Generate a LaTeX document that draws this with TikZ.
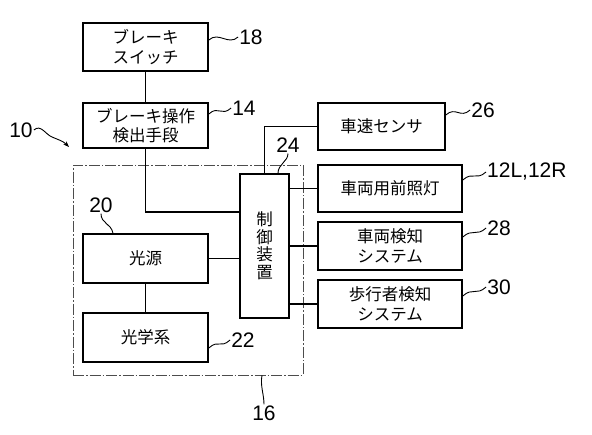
\documentclass[tikz,border=0pt]{standalone}
\usepackage{fontspec}
\setmainfont{Liberation Sans}
\newfontfamily\jpfont{Noto Sans CJK JP}
\usetikzlibrary{arrows.meta}

\tikzset{
    blk/.style={draw, line width=1.6pt, inner sep=0pt, align=center, font=\jpfont\fontsize{16.5}{19.5}\selectfont},
    wire/.style={line width=1.3pt},
    lead/.style={line width=0.9pt},
    num/.style={inner sep=1pt, font=\fontsize{21}{21}\selectfont},
}

\begin{document}
\begin{tikzpicture}[x=1pt,y=-1pt]
    \useasboundingbox (0,0) rectangle (592,434);
    \node[draw, line width=0.8pt, draw=black!70, dash pattern=on 11pt off 2pt on 1.5pt off 2pt, minimum width=230pt, minimum height=210pt] (sys) at (188,270) {};
    \node[blk, minimum width=125pt, minimum height=48pt] (sw) at (145.5,47) {ブレーキ\\スイッチ};
    \node[blk, minimum width=125pt, minimum height=45pt] (brk) at (145.5,125.5) {ブレーキ操作\\検出手段};
    \node[blk, minimum width=49pt, minimum height=144pt, font=\jpfont\fontsize{16.5}{17.5}\selectfont] (ctrl) at (264.5,246) {制\\御\\装\\置};
    \node[blk, minimum width=125pt, minimum height=49pt] (light) at (145.5,258.5) {光源};
    \node[blk, minimum width=125pt, minimum height=49pt] (optics) at (145.5,337.5) {光学系};
    \node[blk, minimum width=127pt, minimum height=47pt] (speed) at (381.5,126.5) {車速センサ};
    \node[blk, minimum width=144pt, minimum height=47pt] (head) at (390,188.5) {車両用前照灯};
    \node[blk, minimum width=144pt, minimum height=48pt] (veh) at (390,246) {車両検知\\システム};
    \node[blk, minimum width=144pt, minimum height=48pt] (ped) at (390,304) {歩行者検知\\システム};

    \draw[wire] (sw.south) -- (brk.north);
    \draw[wire] (brk.south) |- (ctrl.west |- 0,212);
    \draw[wire] (light.east) -- (light.east -| ctrl.west);
    \draw[wire] (light.south) -- (optics.north);
    \draw[wire] (ctrl.north) |- (speed.west);
    \draw[wire] (head.west -| ctrl.east) -- (head.west);
    \draw[wire] (veh.west -| ctrl.east) -- (veh.west);
    \draw[wire] (ped.west -| ctrl.east) -- (ped.west);

    \node[num] (n10) at (21,130) {10};
    \node[num] (n18) at (251,37) {18};
    \node[num] (n14) at (244,108) {14};
    \node[num] (n24) at (288,145) {24};
    \node[num] (n20) at (101,205) {20};
    \node[num] (n22) at (243,340) {22};
    \node[num] (n16) at (264,413) {16};
    \node[num] (n26) at (483,110) {26};
    \node[num, anchor=west] (n12) at (486,172) {12L,12R};
    \node[num] (n28) at (499,228) {28};
    \node[num] (n30) at (499,287) {30};
    \coordinate (sysarr) at (69,147);

    \draw[lead, -{Stealth[length=6pt,width=4.5pt]}] (n10.east) .. controls +(7,-6) and +(-7,-3) .. (52,137) .. controls +(7,3) and +(-6,-6) .. (sysarr);
    \draw[lead] (sw.east |- 0,40) .. controls +(10,-9) and +(-10,9) .. (n18.west);
    \draw[lead] (brk.east |- 0,114) .. controls +(10,-9) and +(-10,9) .. (n14.west);
    \draw[lead] ([xshift=13.5pt]ctrl.north) .. controls +(0,-9) and +(0,8) .. (n24.south);
    \draw[lead] (n20.south) .. controls +(0,10) and +(-2,-10) .. (light.north -| 113,0);
    \draw[lead] (optics.east |- 0,348) .. controls +(10,-9) and +(-10,9) .. (n22.west);
    \draw[lead] (sys.south -| 262,0) .. controls +(-2,10) and +(0,-10) .. (n16.north);
    \draw[lead] (speed.east |- 0,115) .. controls +(10,-9) and +(-10,9) .. (n26.west);
    \draw[lead] (head.east |- 0,180) .. controls +(10,-9) and +(-10,9) .. (n12.west);
    \draw[lead] (veh.east |- 0,237) .. controls +(10,-9) and +(-10,9) .. (n28.west);
    \draw[lead] (ped.east |- 0,296) .. controls +(10,-9) and +(-10,9) .. (n30.west);
\end{tikzpicture}
\end{document}
